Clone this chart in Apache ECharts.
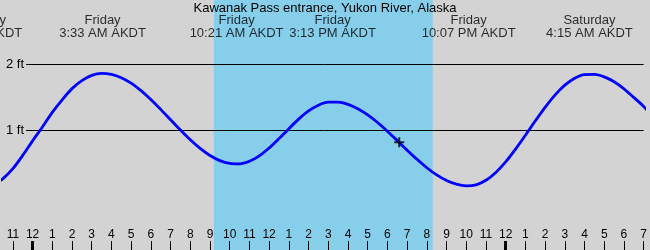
<!DOCTYPE html>
<html>
<head>
<meta charset="utf-8">
<script src="https://cdn.jsdelivr.net/npm/echarts@6/dist/echarts.min.js"></script>
<style>
html,body{margin:0;padding:0;background:#d3d3d3;}
#chart{width:650px;height:250px;}
</style>
</head>
<body>
<div id="chart"></div>
<script>
// Hours relative to Friday 00:00 AKDT (half-hour readings)
var hours = [-2, -1.5, -1, -0.5, 0, 0.5, 1, 1.5, 2, 2.5, 3, 3.5, 4, 4.5, 5, 5.5, 6, 6.5, 7, 7.5, 8, 8.5, 9, 9.5, 10, 10.5, 11, 11.5, 12, 12.5, 13, 13.5, 14, 14.5, 15, 15.5, 16, 16.5, 17, 17.5, 18, 18.5, 19, 19.5, 20, 20.5, 21, 21.5, 22, 22.5, 23, 23.5, 24, 24.5, 25, 25.5, 26, 26.5, 27, 27.5, 28, 28.5, 29, 29.5, 30, 30.5, 31, 31.5];
var heights = [0.17, 0.27, 0.42, 0.62, 0.84, 1.05, 1.27, 1.46, 1.63, 1.75, 1.83, 1.86, 1.845, 1.795, 1.712, 1.60, 1.466, 1.316, 1.159, 1.003, 0.856, 0.726, 0.619, 0.542, 0.499, 0.492, 0.531, 0.614, 0.732, 0.874, 1.025, 1.169, 1.292, 1.38, 1.425, 1.425, 1.391, 1.325, 1.232, 1.118, 0.985, 0.844, 0.70, 0.561, 0.434, 0.325, 0.241, 0.185, 0.161, 0.176, 0.244, 0.363, 0.522, 0.715, 0.925, 1.141, 1.347, 1.532, 1.682, 1.788, 1.843, 1.845, 1.807, 1.733, 1.627, 1.496, 1.36, 1.19];

// High / low tide events
var eventHours = [-2.72, 3.55, 10.35, 15.22, 22.12, 28.25];
var eventDays  = ['Thursday', 'Friday', 'Friday', 'Friday', 'Friday', 'Saturday'];
var eventTimes = ['9:17 PM AKDT', '3:33 AM AKDT', '10:21 AM AKDT', '3:13 PM AKDT', '10:07 PM AKDT', '4:15 AM AKDT'];

// Daylight
var sunrise = 9.2;
var sunset = 20.3;

// Current time marker
var nowPoint = [18.6, 0.82];

// Axis ticks
var hourTicks  = [-1, 0, 1, 2, 3, 4, 5, 6, 7, 8, 9, 10, 11, 12, 13, 14, 15, 16, 17, 18, 19, 20, 21, 22, 23, 24, 25, 26, 27, 28, 29, 30, 31];
var hourLabels = ['11', '12', '1', '2', '3', '4', '5', '6', '7', '8', '9', '10', '11', '12', '1', '2', '3', '4', '5', '6', '7', '8', '9', '10', '11', '12', '1', '2', '3', '4', '5', '6', '7'];
var midnightTicks = [0, 24];
var heightTicks = [1, 2];
var heightLabels = ['1 ft', '2 ft'];

var X_MIN = -1.5, X_MAX = 31;
var Y_MIN = -0.81, Y_MAX = 2.97;

var FONT = 'Liberation Sans';

var lineData = hours.map(function (h, i) { return [h, heights[i]]; });
var eventData = eventHours.map(function (h, i) { return [h, Y_MAX, i]; });

var chart = echarts.init(document.getElementById('chart'));
chart.setOption({
  animation: false,
  backgroundColor: '#d3d3d3',
  textStyle: { fontFamily: FONT },
  title: {
    text: 'Kawanak Pass entrance, Yukon River, Alaska',
    left: 'center',
    top: 2,
    padding: 0,
    textStyle: { fontFamily: FONT, fontSize: 13, fontWeight: 'normal', color: '#000' }
  },
  grid: { left: 0, right: 0, top: 0, bottom: 0, containLabel: false },
  xAxis: [{
    type: 'value',
    min: X_MIN,
    max: X_MAX,
    position: 'bottom',
    z: 3,
    axisLine: { show: false, onZero: false },
    splitLine: { show: false },
    axisTick: {
      show: true, inside: true, length: 9,
      customValues: hourTicks,
      lineStyle: { color: '#000', width: 1 }
    },
    axisLabel: {
      show: true, inside: true, margin: 9,
      customValues: hourTicks,
      color: '#000', fontSize: 12, fontFamily: FONT,
      formatter: function (v) {
        var i = hourTicks.indexOf(Math.round(v));
        return i >= 0 ? hourLabels[i] : '';
      }
    }
  }, {
    type: 'value',
    min: X_MIN,
    max: X_MAX,
    position: 'bottom',
    z: 3,
    axisLine: { show: false, onZero: false },
    splitLine: { show: false },
    axisLabel: { show: false },
    axisTick: {
      show: true, inside: true, length: 9,
      customValues: midnightTicks,
      lineStyle: { color: '#000', width: 3 }
    }
  }],
  yAxis: {
    type: 'value',
    min: Y_MIN,
    max: Y_MAX,
    position: 'left',
    z: 4,
    axisLine: { show: false, onZero: false },
    axisTick: { show: false },
    splitLine: { show: false },
    axisLabel: {
      show: true, inside: true, margin: 0,
      customValues: heightTicks,
      color: '#000', fontSize: 13, fontFamily: FONT,
      backgroundColor: '#d3d3d3',
      padding: [1, 2, 1, 3],
      formatter: function (v) {
        var i = heightTicks.indexOf(Math.round(v));
        return i >= 0 ? heightLabels[i] : '';
      }
    }
  },
  series: [{
    type: 'line',
    data: lineData,
    smooth: 0.3,
    symbol: 'none',
    z: 2,
    lineStyle: { color: '#0000ff', width: 2.8 },
    markArea: {
      silent: true,
      z: 0,
      itemStyle: { color: '#87ceeb' },
      data: [[{ xAxis: sunrise }, { xAxis: sunset }]]
    },
    markLine: {
      silent: true,
      z: 1,
      symbol: ['none', 'none'],
      label: { show: false },
      lineStyle: { color: '#000', width: 1, type: 'solid' },
      data: heightTicks.map(function (v) { return { yAxis: v }; })
    }
  }, {
    type: 'scatter',
    data: [nowPoint],
    symbol: 'path://M4,0h2v4h4v2h-4v4h-2v-4h-4v-2h4z',
    symbolSize: 10,
    z: 4,
    itemStyle: { color: '#000' }
  }, {
    type: 'scatter',
    data: eventData,
    symbolSize: 0,
    clip: false,
    z: 5,
    silent: true,
    label: {
      show: true,
      position: 'bottom',
      distance: 14,
      align: 'center',
      color: '#000',
      fontSize: 13,
      lineHeight: 13,
      fontFamily: FONT,
      formatter: function (p) {
        var i = p.data[2];
        return eventDays[i] + '\n' + eventTimes[i];
      }
    }
  }]
});
</script>
</body>
</html>
